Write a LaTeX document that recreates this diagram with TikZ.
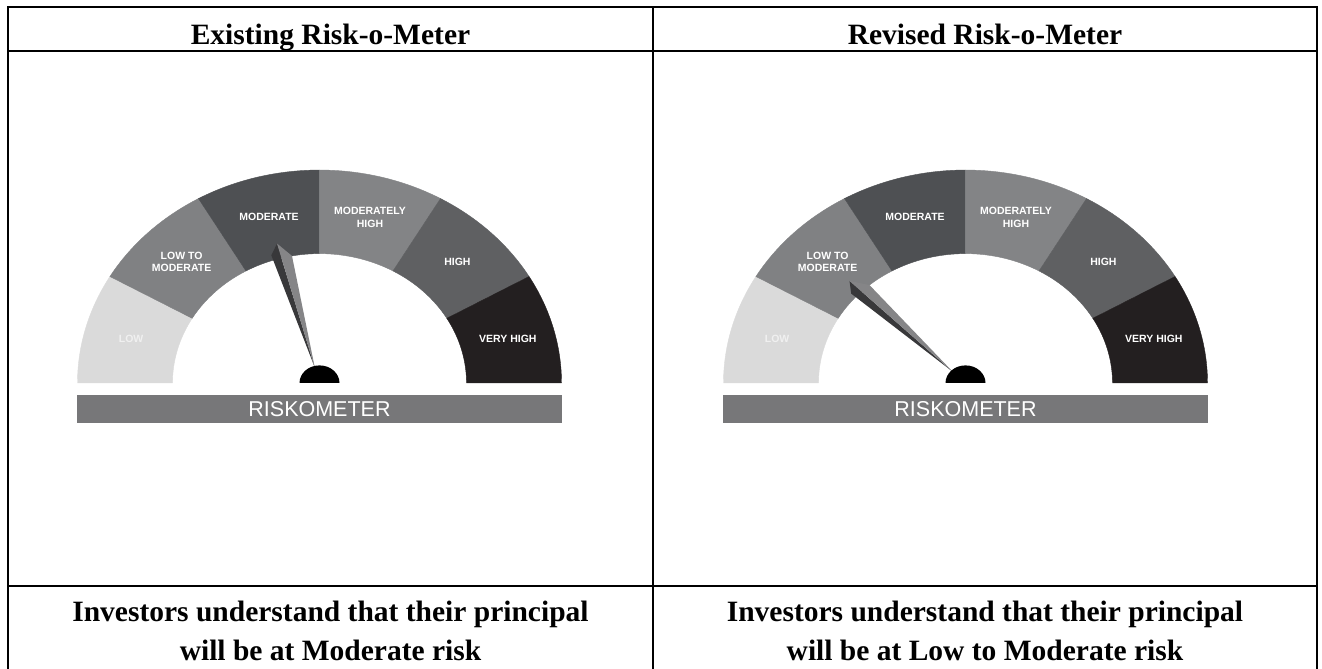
\documentclass[tikz,border=0pt]{standalone}
\usepackage{fontspec}
\setmainfont{Liberation Serif}
\setsansfont{Liberation Sans}
\usetikzlibrary{positioning}

\definecolor{lowc}{RGB}{218,218,218}
\definecolor{ltmc}{RGB}{128,129,131}
\definecolor{modc}{RGB}{78,80,83}
\definecolor{mhc}{RGB}{131,132,134}
\definecolor{hic}{RGB}{95,96,98}
\definecolor{vhc}{RGB}{35,31,32}
\definecolor{barc}{RGB}{119,119,121}
\definecolor{lowtext}{RGB}{240,240,240}
\definecolor{needledark}{RGB}{56,56,58}
\definecolor{needlelight}{RGB}{133,133,135}

\tikzset{
	cell/.style={line width=2.2pt},
	headtext/.style={font=\bfseries\fontsize{29.5}{30}\selectfont, anchor=base, inner sep=0pt},
	captext/.style={font=\bfseries\fontsize{29.5}{38.5}\selectfont, align=center, inner sep=0pt},
	seglabel/.style={font=\sffamily\bfseries\fontsize{10.5}{12.3}\selectfont, align=center, inner sep=0pt},
	riskbar/.style={fill=barc, text=white, minimum width=485, minimum height=28, inner sep=0pt,
		font=\sffamily\fontsize{21.5}{21.5}\selectfont}
}

\begin{document}
\begin{tikzpicture}[x=1pt,y=1pt]
	\useasboundingbox (0,0) rectangle (1322,669);
	
	% Table
	\draw[cell] (8,0) -- (8,662) -- (1317,662) -- (1317,0);
	\draw[cell] (653,0) -- (653,662);
	\draw[cell] (8,618) -- (1317,618);
	\draw[cell] (8,83) -- (1317,83);
	
	% Headers
	\node[headtext] (hd-ex) at (330.5,624) {Existing Risk-o-Meter};
	\node[headtext] (hd-rev) at (985,624) {Revised Risk-o-Meter};
	
	% Gauges
	\foreach \gx/\ang/\g in {319.5/105/ex, 965.5/135/rev}{
		\begin{scope}[shift={(\gx,286)}, yscale=0.88]
			% Bands
			\foreach \a/\col in {150/lowc,120/ltmc,90/modc,60/mhc,30/hic,0/vhc}
			\filldraw[fill=\col, draw=\col, line width=0.4pt] (\a:147) -- (\a:242)
				arc[start angle=\a, delta angle=30, radius=242] -- ({\a+30}:147)
				arc[start angle=\a+30, delta angle=-30, radius=147] -- cycle;
			
			% Labels
			\foreach \a/\txt/\nm/\tc in {165/LOW/low/lowtext, 135/{LOW TO\\MODERATE}/ltm/white,
				105/MODERATE/mod/white, 75/{MODERATELY\\HIGH}/mhi/white,
				45/HIGH/hi/white, 15/VERY HIGH/vhi/white}
			\node[seglabel, text=\tc] (\g-\nm) at (\a:195) {\txt};
			
			% Needle
			\begin{scope}[rotate=\ang]
				\fill[needledark] (164,0) -- (152.7,9) -- (18,0) -- cycle;
				\fill[needlelight] (164,0) -- (146.6,-10.8) -- (18,0) -- cycle;
			\end{scope}
			
			% Hub
			\fill[black] (-20,0) arc[start angle=180, end angle=0, radius=20] -- cycle;
		\end{scope}
		\node[riskbar] (\g-bar) at (\gx,260) {RISKOMETER};
	}
	
	% Captions
	\node[captext] (cap-ex) at (330.5,38) {Investors understand that their principal\\will be at Moderate risk};
	\node[captext] (cap-rev) at (985,38) {Investors understand that their principal\\will be at Low to Moderate risk};
\end{tikzpicture}
\end{document}
